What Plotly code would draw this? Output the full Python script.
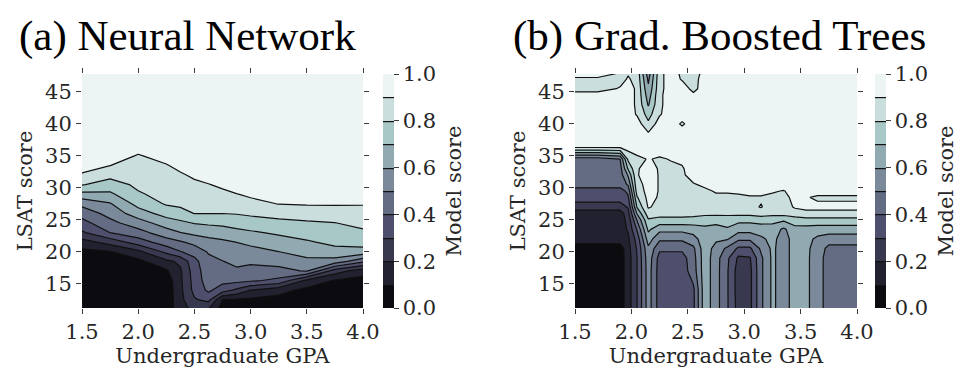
import plotly.graph_objects as go

# ---------------- Panel (a): Neural Network ----------------
GPA_A = [1.5, 1.75, 2.0, 2.25, 2.375, 2.5, 2.625, 2.75, 2.875, 3.0, 3.25, 3.5, 3.75, 4.0]
LSAT_A = [11, 12.5, 14, 15.5, 17, 18.5, 20, 21.5, 23, 24.5, 26, 27.5, 29, 30.5, 32, 33.5, 35, 37, 48]
# one list per GPA value (bottom -> top in LSAT)
SCORE_A = [
    [0.03, 0.03, 0.03, 0.03, 0.03, 0.03, 0.073, 0.16, 0.285, 0.365, 0.44, 0.527, 0.67, 0.806, 0.889, 0.939, 0.98, 0.98, 0.98],
    [0.03, 0.03, 0.03, 0.03, 0.03, 0.049, 0.094, 0.238, 0.402, 0.471, 0.535, 0.592, 0.681, 0.757, 0.829, 0.901, 0.945, 0.98, 0.98],
    [0.03, 0.03, 0.03, 0.03, 0.03, 0.073, 0.175, 0.35, 0.463, 0.553, 0.654, 0.733, 0.789, 0.82, 0.844, 0.869, 0.893, 0.948, 0.98],
    [0.03, 0.03, 0.03, 0.04, 0.085, 0.177, 0.325, 0.453, 0.558, 0.65, 0.738, 0.81, 0.831, 0.852, 0.873, 0.894, 0.933, 0.98, 0.98],
    [0.17, 0.17, 0.175, 0.18, 0.185, 0.22, 0.395, 0.488, 0.598, 0.675, 0.771, 0.817, 0.841, 0.865, 0.889, 0.924, 0.969, 0.98, 0.98],
    [0.22, 0.29, 0.33, 0.34, 0.35, 0.37, 0.439, 0.529, 0.626, 0.706, 0.802, 0.827, 0.855, 0.882, 0.915, 0.96, 0.98, 0.98, 0.98],
    [0.2, 0.33, 0.42, 0.45, 0.46, 0.47, 0.51, 0.568, 0.637, 0.717, 0.802, 0.832, 0.864, 0.896, 0.939, 0.98, 0.98, 0.98, 0.98],
    [0.06, 0.098, 0.35, 0.43, 0.465, 0.497, 0.542, 0.583, 0.647, 0.725, 0.801, 0.838, 0.877, 0.918, 0.963, 0.98, 0.98, 0.98, 0.98],
    [0.05, 0.09, 0.28, 0.431, 0.483, 0.525, 0.563, 0.601, 0.671, 0.741, 0.806, 0.852, 0.897, 0.942, 0.98, 0.98, 0.98, 0.98, 0.98],
    [0.04, 0.08, 0.201, 0.417, 0.467, 0.517, 0.567, 0.622, 0.687, 0.755, 0.817, 0.869, 0.918, 0.963, 0.98, 0.98, 0.98, 0.98, 0.98],
    [0.03, 0.067, 0.136, 0.375, 0.47, 0.538, 0.599, 0.658, 0.715, 0.773, 0.836, 0.903, 0.948, 0.98, 0.98, 0.98, 0.98, 0.98, 0.98],
    [0.03, 0.03, 0.073, 0.175, 0.509, 0.577, 0.636, 0.689, 0.739, 0.787, 0.848, 0.909, 0.954, 0.98, 0.98, 0.98, 0.98, 0.98, 0.98],
    [0.03, 0.03, 0.046, 0.091, 0.25, 0.56, 0.668, 0.723, 0.76, 0.798, 0.854, 0.909, 0.954, 0.98, 0.98, 0.98, 0.98, 0.98, 0.98],
    [0.03, 0.03, 0.03, 0.067, 0.144, 0.425, 0.667, 0.735, 0.784, 0.826, 0.866, 0.906, 0.951, 0.98, 0.98, 0.98, 0.98, 0.98, 0.98],
]

# ---------------- Panel (b): Gradient Boosted Trees ----------------
GPA_B = [1.5, 1.7, 1.9, 1.97, 2.05, 2.15, 2.25, 2.35, 2.45, 2.55, 2.65, 2.75, 2.85,
         2.95, 3.05, 3.15, 3.25, 3.35, 3.45, 3.55, 3.65, 3.75, 3.875, 4.0]
LSAT_B = [11, 14, 17, 19, 20.5, 22, 23.5, 25, 26, 27, 28.5, 29.5, 30.5, 32, 33, 34.5,
          36.5, 38.5, 40, 41.5, 43, 44.5, 45.5, 47, 48.5]
SCORE_B = [
    [0.05, 0.05, 0.05, 0.05, 0.05, 0.15, 0.15, 0.15, 0.15, 0.25, 0.35, 0.35, 0.45, 0.45, 0.45, 0.45, 0.95, 0.95, 0.95, 0.95, 0.95, 0.95, 0.85, 0.89, 0.95],
    [0.05, 0.05, 0.05, 0.05, 0.05, 0.15, 0.15, 0.15, 0.15, 0.25, 0.35, 0.35, 0.45, 0.45, 0.45, 0.45, 0.95, 0.95, 0.95, 0.95, 0.95, 0.95, 0.85, 0.89, 0.95],
    [0.05, 0.05, 0.05, 0.05, 0.05, 0.15, 0.15, 0.15, 0.15, 0.25, 0.35, 0.35, 0.45, 0.45, 0.46, 0.5, 0.95, 0.95, 0.95, 0.95, 0.95, 0.95, 0.91, 0.86, 0.92],
    [0.15, 0.15, 0.15, 0.15, 0.16, 0.18, 0.21, 0.23, 0.26, 0.31, 0.38, 0.43, 0.51, 0.61, 0.71, 0.82, 0.95, 0.95, 0.95, 0.95, 0.95, 0.95, 0.95, 0.91, 0.88],
    [0.3, 0.3, 0.3, 0.3, 0.31, 0.34, 0.41, 0.51, 0.61, 0.71, 0.79, 0.85, 0.87, 0.895, 0.895, 0.88, 0.95, 0.95, 0.95, 0.89, 0.88, 0.88, 0.88, 0.87, 0.86],
    [0.55, 0.55, 0.55, 0.56, 0.58, 0.65, 0.72, 0.79, 0.86, 0.91, 0.93, 0.93, 0.93, 0.93, 0.92, 0.905, 0.95, 0.91, 0.82, 0.76, 0.69, 0.65, 0.62, 0.58, 0.52],
    [0.35, 0.35, 0.35, 0.36, 0.42, 0.52, 0.63, 0.77, 0.84, 0.87, 0.89, 0.895, 0.895, 0.895, 0.895, 0.89, 0.95, 0.95, 0.95, 0.89, 0.88, 0.88, 0.87, 0.87, 0.87],
    [0.35, 0.35, 0.35, 0.36, 0.42, 0.52, 0.63, 0.77, 0.84, 0.86, 0.87, 0.87, 0.87, 0.87, 0.88, 0.905, 0.95, 0.95, 0.95, 0.95, 0.95, 0.95, 0.95, 0.95, 0.95],
    [0.35, 0.35, 0.35, 0.36, 0.42, 0.52, 0.63, 0.77, 0.84, 0.86, 0.87, 0.87, 0.87, 0.88, 0.89, 0.92, 0.95, 0.95, 0.885, 0.95, 0.95, 0.95, 0.95, 0.89, 0.87],
    [0.38, 0.38, 0.45, 0.46, 0.48, 0.56, 0.65, 0.76, 0.84, 0.86, 0.87, 0.88, 0.89, 0.95, 0.95, 0.95, 0.95, 0.95, 0.95, 0.95, 0.95, 0.92, 0.87, 0.86, 0.86],
    [0.66, 0.66, 0.66, 0.66, 0.66, 0.66, 0.68, 0.74, 0.83, 0.86, 0.87, 0.88, 0.92, 0.95, 0.95, 0.95, 0.95, 0.95, 0.95, 0.95, 0.95, 0.95, 0.95, 0.95, 0.92],
    [0.54, 0.54, 0.54, 0.54, 0.56, 0.62, 0.67, 0.73, 0.83, 0.86, 0.88, 0.91, 0.95, 0.95, 0.95, 0.95, 0.95, 0.95, 0.95, 0.95, 0.95, 0.95, 0.95, 0.95, 0.95],
    [0.41, 0.41, 0.41, 0.42, 0.48, 0.61, 0.69, 0.74, 0.83, 0.86, 0.88, 0.91, 0.95, 0.95, 0.95, 0.95, 0.95, 0.95, 0.95, 0.95, 0.95, 0.95, 0.95, 0.95, 0.95],
    [0.26, 0.25, 0.25, 0.28, 0.38, 0.52, 0.64, 0.73, 0.83, 0.86, 0.88, 0.92, 0.95, 0.95, 0.95, 0.95, 0.95, 0.95, 0.95, 0.95, 0.95, 0.95, 0.95, 0.95, 0.95],
    [0.27, 0.27, 0.27, 0.29, 0.38, 0.52, 0.64, 0.73, 0.83, 0.88, 0.89, 0.93, 0.95, 0.95, 0.95, 0.95, 0.95, 0.95, 0.95, 0.95, 0.95, 0.95, 0.95, 0.95, 0.95],
    [0.48, 0.48, 0.48, 0.48, 0.52, 0.58, 0.65, 0.74, 0.85, 0.905, 0.89, 0.93, 0.95, 0.95, 0.95, 0.95, 0.95, 0.95, 0.95, 0.95, 0.95, 0.95, 0.95, 0.95, 0.95],
    [0.62, 0.62, 0.62, 0.62, 0.62, 0.63, 0.66, 0.73, 0.84, 0.86, 0.88, 0.91, 0.95, 0.95, 0.95, 0.95, 0.95, 0.95, 0.95, 0.95, 0.95, 0.95, 0.95, 0.95, 0.95],
    [0.55, 0.55, 0.55, 0.55, 0.55, 0.55, 0.58, 0.72, 0.84, 0.86, 0.87, 0.895, 0.95, 0.95, 0.95, 0.95, 0.95, 0.95, 0.95, 0.95, 0.95, 0.95, 0.95, 0.95, 0.95],
    [0.65, 0.65, 0.65, 0.65, 0.65, 0.65, 0.67, 0.75, 0.86, 0.91, 0.93, 0.94, 0.95, 0.95, 0.95, 0.95, 0.95, 0.95, 0.95, 0.95, 0.95, 0.95, 0.95, 0.95, 0.95],
    [0.62, 0.62, 0.62, 0.62, 0.62, 0.63, 0.66, 0.77, 0.87, 0.93, 0.91, 0.95, 0.95, 0.95, 0.95, 0.95, 0.95, 0.95, 0.95, 0.95, 0.95, 0.95, 0.95, 0.95, 0.95],
    [0.55, 0.55, 0.55, 0.55, 0.56, 0.58, 0.65, 0.77, 0.87, 0.93, 0.88, 0.95, 0.95, 0.95, 0.95, 0.95, 0.95, 0.95, 0.95, 0.95, 0.95, 0.95, 0.95, 0.95, 0.95],
    [0.45, 0.45, 0.45, 0.45, 0.47, 0.55, 0.65, 0.77, 0.87, 0.93, 0.88, 0.95, 0.95, 0.95, 0.95, 0.95, 0.95, 0.95, 0.95, 0.95, 0.95, 0.95, 0.95, 0.95, 0.95],
    [0.45, 0.45, 0.45, 0.45, 0.47, 0.55, 0.65, 0.77, 0.87, 0.93, 0.88, 0.95, 0.95, 0.95, 0.95, 0.95, 0.95, 0.95, 0.95, 0.95, 0.95, 0.95, 0.95, 0.95, 0.95],
    [0.45, 0.45, 0.45, 0.45, 0.47, 0.55, 0.65, 0.77, 0.87, 0.93, 0.88, 0.95, 0.95, 0.95, 0.95, 0.95, 0.95, 0.95, 0.95, 0.95, 0.95, 0.95, 0.95, 0.95, 0.95],
]

TITLES = ["(a) Neural Network", "(b) Grad. Boosted Trees"]
X_TICKS = [1.5, 2.0, 2.5, 3.0, 3.5, 4.0]
Y_TICKS = [15, 20, 25, 30, 35, 40, 45]
CB_TICKS = [0.0, 0.2, 0.4, 0.6, 0.8, 1.0]

# bone colormap sampled at the centre of each 0.1-wide band
BAND_COLORS = ["rgb(11,11,16)", "rgb(33,33,47)", "rgb(56,56,78)", "rgb(78,78,109)",
               "rgb(100,108,132)", "rgb(123,138,155)", "rgb(145,169,177)",
               "rgb(168,199,199)", "rgb(203,222,222)", "rgb(237,244,244)"]
colorscale = [[i / 9, c] for i, c in enumerate(BAND_COLORS)]

W, H = 976, 385
FONT = "DejaVu Serif"
FS = 21
TXT = "#262626"
TICKC = "#3a3a3a"

panels = [
    dict(x=GPA_A, y=LSAT_A, z=SCORE_A, px0=82, px1=363, cb=383),
    dict(x=GPA_B, y=LSAT_B, z=SCORE_B, px0=575, px1=857, cb=875),
]
top_px, bot_px = 74, 308

fig = go.Figure()
for i, p in enumerate(panels):
    sfx = "" if i == 0 else str(i + 1)
    fig.add_trace(go.Contour(
        x=p["x"], y=p["y"], z=p["z"], transpose=True,
        xaxis="x" + sfx, yaxis="y" + sfx,
        autocontour=False,
        contours=dict(start=0.1, end=0.9, size=0.1, coloring="fill"),
        line=dict(color="#111111", width=1.2, smoothing=0),
        colorscale=colorscale, zmin=0, zmax=1, zauto=False,
        showscale=True,
        colorbar=dict(
            x=p["cb"] / W, xanchor="left", xref="paper",
            y=1 - bot_px / H, yanchor="bottom", yref="paper",
            len=(bot_px - top_px) / H, lenmode="fraction",
            thickness=11, thicknessmode="pixels",
            outlinewidth=0, xpad=0, ypad=0,
            tickmode="array", tickvals=CB_TICKS,
            ticktext=[f"{v:.1f}\u2009" for v in CB_TICKS],
            ticks="outside", ticklen=5, tickwidth=1, tickcolor=TICKC,
            tickfont=dict(family=FONT, size=FS, color=TXT),
            title=dict(text="Model score", side="right",
                       font=dict(family=FONT, size=FS, color=TXT)),
        ),
        hoverinfo="skip",
    ))
    axis_common = dict(showgrid=False, zeroline=False, showline=False,
                       automargin=False,
                       ticks="outside", ticklen=5, tickwidth=1, tickcolor=TICKC,
                       mirror="ticks", tickfont=dict(family=FONT, size=FS, color=TXT))
    fig.layout["xaxis" + sfx] = dict(
        domain=[p["px0"] / W, p["px1"] / W], anchor="y" + sfx,
        range=[1.5, 4.0], tickmode="array", tickvals=X_TICKS,
        ticktext=[f"{v:.1f}" for v in X_TICKS],
        title=dict(text="Undergraduate GPA", standoff=4,
                   font=dict(family=FONT, size=FS, color=TXT)),
        **axis_common)
    fig.layout["yaxis" + sfx] = dict(
        domain=[1 - bot_px / H, 1 - top_px / H], anchor="x" + sfx,
        range=[11.2, 47.8], tickmode="array", tickvals=Y_TICKS,
        title=dict(text="LSAT score", standoff=6,
                   font=dict(family=FONT, size=FS, color=TXT)),
        **axis_common)
    fig.add_annotation(text=TITLES[i], xref="paper", yref="paper",
                       x=(17 if i == 0 else 511) / W, y=1 - 36 / H,
                       xanchor="left", yanchor="middle", showarrow=False,
                       font=dict(family="Liberation Serif", size=43, color="black"))

fig.update_layout(width=W, height=H, margin=dict(l=0, r=0, t=0, b=0, autoexpand=False),
                  paper_bgcolor="white", plot_bgcolor="white", showlegend=False)
fig.write_html("out.html", config={"displayModeBar": False, "staticPlot": True},
               post_script="document.body.style.margin='0';document.body.style.padding='0';")
